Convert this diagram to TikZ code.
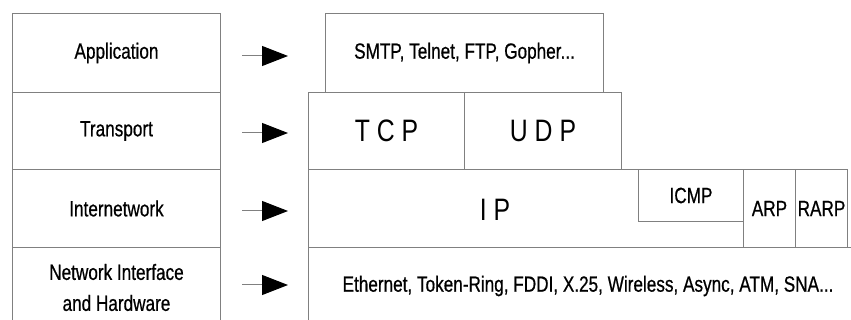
\documentclass[tikz,border=0pt]{standalone}
\usepackage{fontspec}
\setmainfont[FakeStretch=0.78, FakeBold=0.6]{Liberation Sans}
\newfontfamily\fonteleve[FakeStretch=0.8]{Liberation Sans}
\usetikzlibrary{arrows.meta}

\definecolor{linha}{gray}{0.5}

\tikzset{
  camada/.style={draw=linha, line width=1pt, inner sep=0pt, anchor=north west,
    font=\fontsize{22}{26}\selectfont},
  grande/.style={font=\fonteleve\fontsize{31}{36}\selectfont},
  rotulo/.style={inner sep=0pt, font=\fontsize{22}{26}\selectfont},
  seta/.style={draw=linha, line width=1pt, -{Triangle[length=26pt, width=20pt, color=black]}},
}

\begin{document}
\begin{tikzpicture}[x=1pt, y=-1pt]
	\useasboundingbox (0,0) rectangle (851,320);

	%camadas do modelo
	\node[camada, minimum width=208pt, minimum height=79pt] (app) at (12,13) {Application};
	\node[camada, minimum width=208pt, minimum height=77pt] (trans) at (12,92) {Transport};
	\node[camada, minimum width=208pt, minimum height=78pt] (inet) at (12,169) {Internetwork};
	\node[camada, minimum width=208pt, minimum height=80pt, align=center,
	  font=\fontsize{22}{31}\selectfont] (nif) at (12,247) {Network Interface\\and Hardware};

	%setas
	\foreach \c/\y in {app/56, trans/133, inet/211, nif/285}
	  \draw[seta] (\c.east |- 0,\y) ++(21,0) -- ++(46,0);

	%aplicacao
	\node[camada, minimum width=278pt, minimum height=79pt] (smtp) at (325,13) {SMTP, Telnet, FTP, Gopher...};

	%transporte
	\node[camada, grande, minimum width=156pt, minimum height=77pt] (tcp) at (308,92) {T C P};
	\node[camada, grande, minimum width=157pt, minimum height=77pt] (udp) at (464,92) {U D P};

	%inter-rede
	\node[camada, minimum width=539pt, minimum height=78pt] (iprow) at (308,169) {};
	\node[rotulo, grande] (ip) at (495,210) {I P};
	\node[camada, minimum width=105pt, minimum height=52pt] (icmp) at (638,169) {ICMP};
	\node[camada, minimum width=52pt, minimum height=78pt] (arp) at (743,169) {ARP};
	\node[camada, minimum width=52pt, minimum height=78pt] (rarp) at (795,169) {RARP};

	%interface de rede
	\draw[linha, line width=1pt] (iprow.south west) -- ++(0,85);
	\draw[linha, line width=1pt] (iprow.south east) -- ++(4,0);
	\node[rotulo] (enlace) at (588,286) {Ethernet, Token-Ring, FDDI, X.25, Wireless, Async, ATM, SNA...};
\end{tikzpicture}
\end{document}
